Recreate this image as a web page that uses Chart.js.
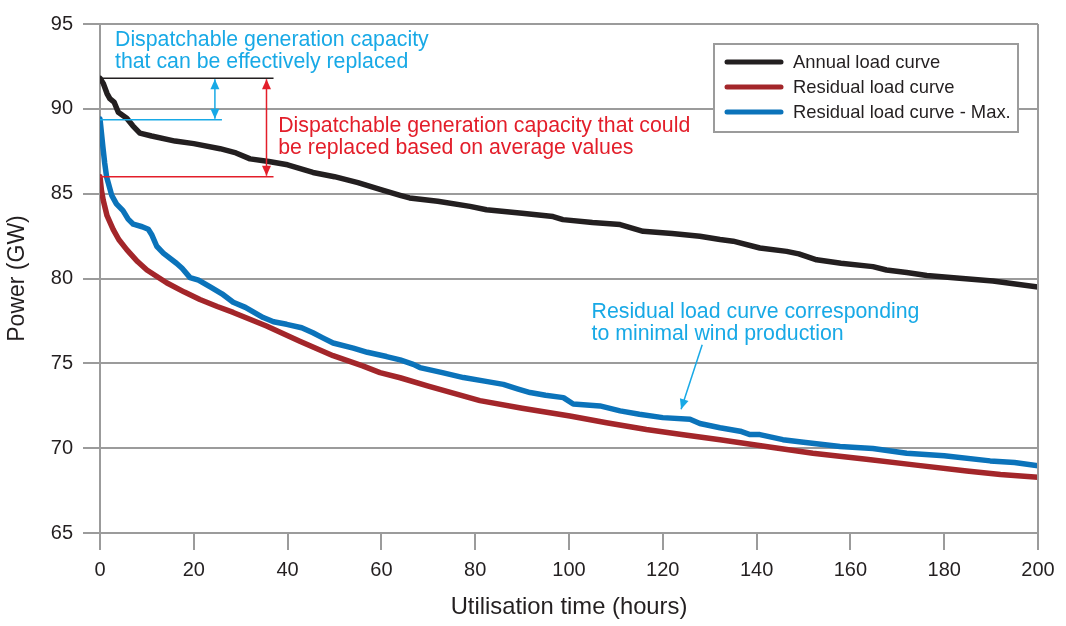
<!DOCTYPE html>
<html>
<head>
<meta charset="utf-8">
<script src="https://cdn.jsdelivr.net/npm/chart.js@4.4.1/dist/chart.umd.min.js"></script>
<style>
  html, body { margin: 0; padding: 0; background: #fff; }
  #wrap { width: 1066px; height: 626px; }
</style>
</head>
<body>
<div id="wrap"><canvas id="chart"></canvas></div>
<script>
// values
const annualHours = [0, 0.7, 1.5, 2.1, 3, 3.9, 5.7, 7, 8.5, 11, 16, 20, 25.6, 29, 32, 36, 40, 45.4, 50, 55, 59.7, 64, 66, 72, 78.9, 82.4, 90, 96.6, 98.7, 105, 110.9, 115.8, 122, 127.9, 132.2, 135, 140.7, 146.4, 149, 152.8, 158, 164.8, 167.7, 172, 176.3, 182, 190.4, 200];
const annualLoad = [91.8, 91.5, 90.9, 90.6, 90.4, 89.8, 89.45, 89.0, 88.57, 88.4, 88.1, 87.95, 87.65, 87.4, 87.05, 86.9, 86.7, 86.25, 86.0, 85.65, 85.25, 84.9, 84.75, 84.55, 84.25, 84.05, 83.85, 83.65, 83.47, 83.3, 83.18, 82.78, 82.65, 82.49, 82.3, 82.2, 81.8, 81.6, 81.45, 81.1, 80.9, 80.7, 80.5, 80.35, 80.18, 80.05, 79.85, 79.5];

const residualHours = [0, 0.3, 0.7, 1.5, 2.8, 4, 5.7, 8, 10, 14.2, 18, 21.3, 25, 28.4, 35.5, 42.6, 49.7, 56, 59.7, 64, 70, 81, 90, 100.2, 108, 116.5, 124, 132.2, 142, 152, 163.4, 174, 184.8, 192, 200];
const residualLoad = [86.0, 85.2, 84.6, 83.7, 82.9, 82.3, 81.7, 81.0, 80.5, 79.75, 79.2, 78.76, 78.35, 78.0, 77.2, 76.3, 75.45, 74.85, 74.45, 74.15, 73.65, 72.8, 72.35, 71.9, 71.5, 71.1, 70.8, 70.5, 70.1, 69.7, 69.35, 69.0, 68.66, 68.45, 68.28];

const maxHours = [0, 0.6, 1.0, 1.4, 2.5, 3.5, 4.9, 6, 7.1, 9, 10.3, 11, 12.1, 13.5, 16.3, 17.5, 19.2, 21, 23.5, 26, 28.4, 31, 34.8, 37, 39.8, 43, 45.4, 47.5, 49.7, 54, 57, 61.1, 64, 66.8, 68.2, 73, 77.5, 82, 86, 89, 91.7, 95, 98.8, 100.9, 106.6, 110.9, 115, 120, 125.8, 127.9, 132.2, 136.5, 138.6, 140.7, 145.6, 150, 157.8, 164.8, 172, 180, 189.8, 195, 200];
const maxLoad = [89.4, 87.8, 86.8, 86.0, 84.9, 84.4, 84.0, 83.5, 83.2, 83.05, 82.9, 82.6, 81.9, 81.5, 80.9, 80.6, 80.05, 79.9, 79.5, 79.1, 78.6, 78.3, 77.7, 77.45, 77.3, 77.1, 76.8, 76.5, 76.2, 75.9, 75.65, 75.4, 75.2, 74.94, 74.75, 74.45, 74.16, 73.95, 73.76, 73.5, 73.28, 73.12, 72.98, 72.6, 72.49, 72.2, 72.0, 71.8, 71.7, 71.45, 71.2, 71.0, 70.8, 70.8, 70.5, 70.35, 70.1, 69.98, 69.7, 69.55, 69.25, 69.15, 68.96];

const seriesNames = ['Annual load curve', 'Residual load curve', 'Residual load curve - Max.'];
const xTicks = [0, 20, 40, 60, 80, 100, 120, 140, 160, 180, 200];
const yTicks = [65, 70, 75, 80, 85, 90, 95];

// annotation levels (GW) and extents (hours)
const peakLevels = [91.8, 89.35, 86.0];
const levelEnds = [37, 26, 37];
const arrowHours = [24.5, 35.5];

const COL = { black: '#231f20', red: '#a3262a', blue: '#0b73ba', cyan: '#18a9e6', redText: '#e31e2a', grid: '#9b9b9b', text: '#231f20' };
const FONT = '"Liberation Sans", Arial, Helvetica, sans-serif';

function pts(xs, ys) { return xs.map((x, i) => ({ x: x, y: ys[i] })); }

function arrowHead(ctx, x1, y1, x2, y2, len, half) {
  const a = Math.atan2(y2 - y1, x2 - x1);
  ctx.beginPath();
  ctx.moveTo(x2, y2);
  ctx.lineTo(x2 - len * Math.cos(a) + half * Math.sin(a), y2 - len * Math.sin(a) - half * Math.cos(a));
  ctx.lineTo(x2 - len * Math.cos(a) - half * Math.sin(a), y2 - len * Math.sin(a) + half * Math.cos(a));
  ctx.closePath();
  ctx.fill();
}

function arrowLine(ctx, x1, y1, x2, y2, both) {
  ctx.beginPath();
  ctx.moveTo(x1, y1);
  ctx.lineTo(x2, y2);
  ctx.stroke();
  arrowHead(ctx, x1, y1, x2, y2, 10, 4.5);
  if (both) arrowHead(ctx, x2, y2, x1, y1, 10, 4.5);
}

const annotations = {
  id: 'annotations',
  afterDraw(chart) {
    const ctx = chart.ctx;
    const xs = chart.scales.x, ys = chart.scales.y;
    const area = chart.chartArea;
    const px = v => xs.getPixelForValue(v);
    const py = v => ys.getPixelForValue(v);
    ctx.save();

    // right frame line
    ctx.strokeStyle = COL.grid;
    ctx.lineWidth = 2;
    ctx.beginPath();
    ctx.moveTo(area.right, area.top);
    ctx.lineTo(area.right, area.bottom);
    ctx.stroke();

    // level lines
    const lvlCols = [COL.black, COL.cyan, COL.redText];
    ctx.lineWidth = 1.5;
    peakLevels.forEach((lv, i) => {
      ctx.strokeStyle = lvlCols[i];
      ctx.beginPath();
      ctx.moveTo(px(0), py(lv));
      ctx.lineTo(px(levelEnds[i]), py(lv));
      ctx.stroke();
    });

    // double arrows
    ctx.lineWidth = 1.5;
    ctx.strokeStyle = COL.cyan; ctx.fillStyle = COL.cyan;
    arrowLine(ctx, px(arrowHours[0]), py(peakLevels[0]) + 1, px(arrowHours[0]), py(peakLevels[1]) - 1, true);
    ctx.strokeStyle = COL.redText; ctx.fillStyle = COL.redText;
    arrowLine(ctx, px(arrowHours[1]), py(peakLevels[0]) + 1, px(arrowHours[1]), py(peakLevels[2]) - 1, true);

    // pointer to blue curve
    ctx.strokeStyle = COL.cyan; ctx.fillStyle = COL.cyan;
    arrowLine(ctx, px(128.4), py(76.1), px(123.9), py(72.3), false);

    // texts
    ctx.font = '21.3px ' + FONT;
    ctx.textBaseline = 'alphabetic';
    ctx.textAlign = 'left';
    ctx.fillStyle = COL.cyan;
    ctx.fillText('Dispatchable generation capacity', px(3.2), py(93.7));
    ctx.fillText('that can be effectively replaced', px(3.2), py(92.38));
    ctx.fillText('Residual load curve corresponding', px(104.8), py(77.66));
    ctx.fillText('to minimal wind production', px(104.8), py(76.38));
    ctx.fillStyle = COL.redText;
    ctx.fillText('Dispatchable generation capacity that could', px(38.0), py(88.65));
    ctx.fillText('be replaced based on average values', px(38.0), py(87.34));

    // legend box
    const bx = area.right - 324, by = area.top + 20, bw = 304, bh = 88;
    ctx.fillStyle = '#fff';
    ctx.fillRect(bx, by, bw, bh);
    ctx.strokeStyle = COL.grid;
    ctx.lineWidth = 2;
    ctx.strokeRect(bx, by, bw, bh);
    const legCols = [COL.black, COL.red, COL.blue];
    ctx.font = '18.4px ' + FONT;
    ctx.textBaseline = 'middle';
    ctx.lineCap = 'round';
    seriesNames.forEach((name, i) => {
      const ly = by + 18 + i * 25;
      ctx.strokeStyle = legCols[i];
      ctx.lineWidth = 5;
      ctx.beginPath();
      ctx.moveTo(bx + 13, ly);
      ctx.lineTo(bx + 67, ly);
      ctx.stroke();
      ctx.fillStyle = COL.text;
      ctx.fillText(name, bx + 79, ly + 1);
    });
    ctx.restore();
  }
};

const lineStyle = { borderWidth: 5.5, pointRadius: 0, tension: 0, borderCapStyle: 'round', borderJoinStyle: 'round', fill: false };

new Chart(document.getElementById('chart'), {
  type: 'line',
  data: {
    datasets: [
      Object.assign({ label: seriesNames[0], data: pts(annualHours, annualLoad), borderColor: COL.black }, lineStyle),
      Object.assign({ label: seriesNames[2], data: pts(maxHours, maxLoad), borderColor: COL.blue }, lineStyle),
      Object.assign({ label: seriesNames[1], data: pts(residualHours, residualLoad), borderColor: COL.red }, lineStyle)
    ]
  },
  options: {
    responsive: true,
    maintainAspectRatio: false,
    animation: false,
    layout: { padding: { top: 24, right: 28, left: 0, bottom: 0 } },
    plugins: { legend: { display: false }, tooltip: { enabled: false } },
    scales: {
      x: {
        type: 'linear', min: 0, max: 200,
        afterBuildTicks: s => { s.ticks = xTicks.map(v => ({ value: v })); },
        afterFit: s => { s.height = 93; },
        ticks: { color: COL.text, font: { family: FONT, size: 20 }, padding: 8, maxRotation: 0 },
        grid: { drawOnChartArea: false, drawTicks: true, tickLength: 17, color: COL.grid, lineWidth: 2 },
        border: { display: true, color: COL.grid, width: 2 },
        title: { display: true, text: 'Utilisation time (hours)', color: COL.text, font: { family: FONT, size: 23.8 }, padding: { top: 4, bottom: 4 } }
      },
      y: {
        min: 65, max: 95,
        afterBuildTicks: s => { s.ticks = yTicks.map(v => ({ value: v })); },
        afterFit: s => { s.width = 100; },
        ticks: { color: COL.text, font: { family: FONT, size: 20 }, padding: 10 },
        grid: { drawTicks: true, tickLength: 17, color: COL.grid, lineWidth: 2 },
        border: { display: true, color: COL.grid, width: 2 },
        title: { display: true, text: 'Power (GW)', color: COL.text, font: { family: FONT, size: 23 }, padding: { top: 4, bottom: 4 } }
      }
    }
  },
  plugins: [annotations]
});
</script>
</body>
</html>
